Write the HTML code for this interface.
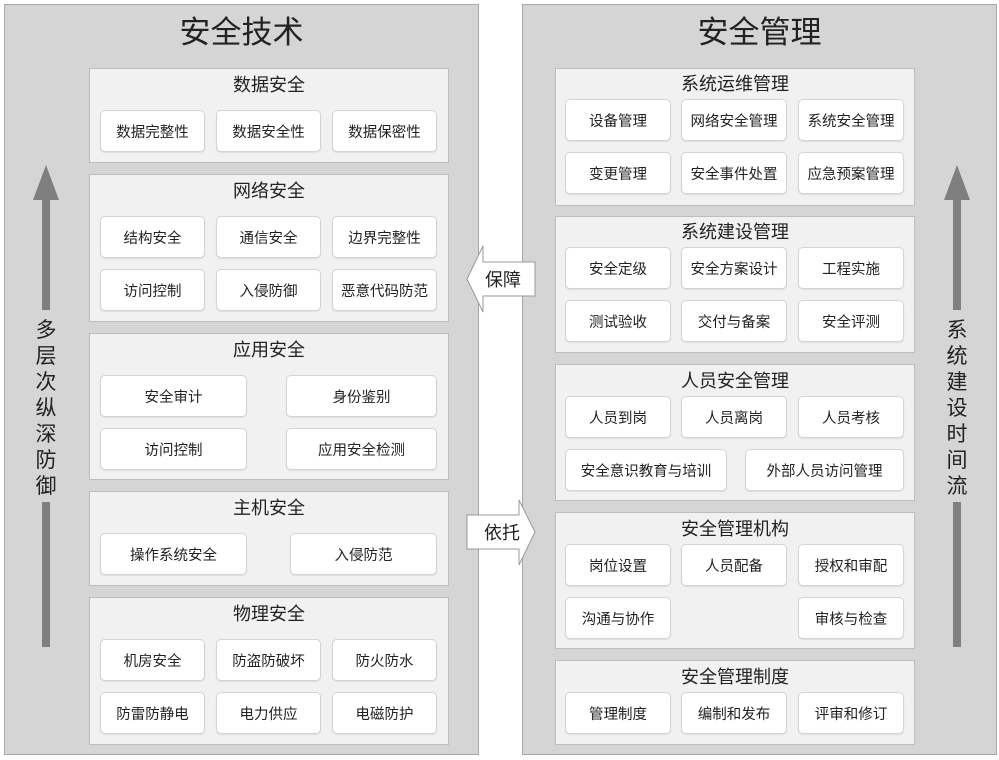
<!DOCTYPE html>
<html><head><meta charset="utf-8"><style>
*{margin:0;padding:0;box-sizing:border-box}
body{width:999px;height:760px;background:#fff;position:relative;font-family:"Liberation Sans","Noto Sans CJK SC",sans-serif;color:#222;overflow:hidden}
.abs{position:absolute}
.panel{background:#d5d5d5;border:1px solid #a8a8a8}
.big{font-size:31px;text-align:center;width:100%;top:8px;line-height:40px}
.sec{background:#f1f1f1;border:1px solid #bdbdbd}
.st{font-size:18px;text-align:center;width:100%;line-height:22px}
.it{background:#fff;border:1px solid #d4d4d4;border-radius:5px;font-size:14.5px;text-align:center;line-height:40px;padding-top:2px;box-shadow:0 1px 1px #ddd}
.vt{font-size:21px;width:30px;text-align:center;line-height:26px}
</style></head><body>
<div class="abs panel" style="left:4px;top:4px;width:475px;height:751px"><div class="abs big">安全技术</div></div>
<div class="abs panel" style="left:522px;top:4px;width:475px;height:751px"><div class="abs big">安全管理</div></div>

<svg class="abs" style="left:0;top:0" width="999" height="760">
<polygon points="46,165 59,200 33,200" fill="#7f7f7f"/>
<rect x="42" y="198" width="8" height="112" fill="#7f7f7f"/>
<rect x="42" y="502" width="8" height="145" fill="#7f7f7f"/>
<polygon points="957,165 970,200 944,200" fill="#7f7f7f"/>
<rect x="953" y="198" width="8" height="112" fill="#7f7f7f"/>
<rect x="953" y="502" width="8" height="145" fill="#7f7f7f"/>
<polygon points="467,279 483,246 483,262 535,262 535,296 483,296 483,312" fill="#fff" stroke="#999"/>
<polygon points="535,532 519,500 519,515 467,515 467,549 519,549 519,565" fill="#fff" stroke="#999"/>
<text x="503" y="286" font-size="18" text-anchor="middle" font-family="Liberation Sans,Noto Sans CJK SC,sans-serif" fill="#222">保障</text>
<text x="502" y="539" font-size="18" text-anchor="middle" font-family="Liberation Sans,Noto Sans CJK SC,sans-serif" fill="#222">依托</text>
</svg>
<div class="abs vt" style="left:31px;top:318px">多<br>层<br>次<br>纵<br>深<br>防<br>御</div>
<div class="abs vt" style="left:942px;top:318px">系<br>统<br>建<br>设<br>时<br>间<br>流</div>

<div class="abs sec" style="left:89px;top:68px;width:360px;height:95px"><div class="abs st" style="top:5px">数据安全</div></div>
<div class="abs it" style="left:100px;top:110px;width:105px;height:42px">数据完整性</div>
<div class="abs it" style="left:216px;top:110px;width:105px;height:42px">数据安全性</div>
<div class="abs it" style="left:332px;top:110px;width:105px;height:42px">数据保密性</div>

<div class="abs sec" style="left:89px;top:174px;width:360px;height:148px"><div class="abs st" style="top:5px">网络安全</div></div>
<div class="abs it" style="left:100px;top:216px;width:105px;height:42px">结构安全</div>
<div class="abs it" style="left:216px;top:216px;width:105px;height:42px">通信安全</div>
<div class="abs it" style="left:332px;top:216px;width:105px;height:42px">边界完整性</div>
<div class="abs it" style="left:100px;top:269px;width:105px;height:42px">访问控制</div>
<div class="abs it" style="left:216px;top:269px;width:105px;height:42px">入侵防御</div>
<div class="abs it" style="left:332px;top:269px;width:105px;height:42px">恶意代码防范</div>

<div class="abs sec" style="left:89px;top:333px;width:360px;height:147px"><div class="abs st" style="top:5px">应用安全</div></div>
<div class="abs it" style="left:100px;top:375px;width:147px;height:42px">安全审计</div>
<div class="abs it" style="left:286px;top:375px;width:151px;height:42px">身份鉴别</div>
<div class="abs it" style="left:100px;top:428px;width:147px;height:42px">访问控制</div>
<div class="abs it" style="left:286px;top:428px;width:151px;height:42px">应用安全检测</div>

<div class="abs sec" style="left:89px;top:491px;width:360px;height:95px"><div class="abs st" style="top:5px">主机安全</div></div>
<div class="abs it" style="left:100px;top:533px;width:147px;height:42px">操作系统安全</div>
<div class="abs it" style="left:290px;top:533px;width:147px;height:42px">入侵防范</div>

<div class="abs sec" style="left:89px;top:597px;width:360px;height:148px"><div class="abs st" style="top:5px">物理安全</div></div>
<div class="abs it" style="left:100px;top:639px;width:105px;height:42px">机房安全</div>
<div class="abs it" style="left:216px;top:639px;width:105px;height:42px">防盗防破坏</div>
<div class="abs it" style="left:332px;top:639px;width:105px;height:42px">防火防水</div>
<div class="abs it" style="left:100px;top:692px;width:105px;height:42px">防雷防静电</div>
<div class="abs it" style="left:216px;top:692px;width:105px;height:42px">电力供应</div>
<div class="abs it" style="left:332px;top:692px;width:105px;height:42px">电磁防护</div>

<div class="abs sec" style="left:555px;top:68px;width:360px;height:138px"><div class="abs st" style="top:4px">系统运维管理</div></div>
<div class="abs it" style="left:565px;top:99px;width:106px;height:42px">设备管理</div>
<div class="abs it" style="left:681px;top:99px;width:106px;height:42px">网络安全管理</div>
<div class="abs it" style="left:798px;top:99px;width:106px;height:42px">系统安全管理</div>
<div class="abs it" style="left:565px;top:152px;width:106px;height:42px">变更管理</div>
<div class="abs it" style="left:681px;top:152px;width:106px;height:42px">安全事件处置</div>
<div class="abs it" style="left:798px;top:152px;width:106px;height:42px">应急预案管理</div>

<div class="abs sec" style="left:555px;top:216px;width:360px;height:137px"><div class="abs st" style="top:4px">系统建设管理</div></div>
<div class="abs it" style="left:565px;top:247px;width:106px;height:42px">安全定级</div>
<div class="abs it" style="left:681px;top:247px;width:106px;height:42px">安全方案设计</div>
<div class="abs it" style="left:798px;top:247px;width:106px;height:42px">工程实施</div>
<div class="abs it" style="left:565px;top:300px;width:106px;height:42px">测试验收</div>
<div class="abs it" style="left:681px;top:300px;width:106px;height:42px">交付与备案</div>
<div class="abs it" style="left:798px;top:300px;width:106px;height:42px">安全评测</div>

<div class="abs sec" style="left:555px;top:364px;width:360px;height:137px"><div class="abs st" style="top:5px">人员安全管理</div></div>
<div class="abs it" style="left:565px;top:396px;width:106px;height:42px">人员到岗</div>
<div class="abs it" style="left:681px;top:396px;width:106px;height:42px">人员离岗</div>
<div class="abs it" style="left:798px;top:396px;width:106px;height:42px">人员考核</div>
<div class="abs it" style="left:565px;top:449px;width:162px;height:42px">安全意识教育与培训</div>
<div class="abs it" style="left:745px;top:449px;width:159px;height:42px">外部人员访问管理</div>

<div class="abs sec" style="left:555px;top:512px;width:360px;height:137px"><div class="abs st" style="top:5px">安全管理机构</div></div>
<div class="abs it" style="left:565px;top:544px;width:106px;height:42px">岗位设置</div>
<div class="abs it" style="left:681px;top:544px;width:106px;height:42px">人员配备</div>
<div class="abs it" style="left:798px;top:544px;width:106px;height:42px">授权和审配</div>
<div class="abs it" style="left:565px;top:597px;width:106px;height:42px">沟通与协作</div>
<div class="abs it" style="left:798px;top:597px;width:106px;height:42px">审核与检查</div>

<div class="abs sec" style="left:555px;top:660px;width:360px;height:85px"><div class="abs st" style="top:5px">安全管理制度</div></div>
<div class="abs it" style="left:565px;top:692px;width:106px;height:42px">管理制度</div>
<div class="abs it" style="left:681px;top:692px;width:106px;height:42px">编制和发布</div>
<div class="abs it" style="left:798px;top:692px;width:106px;height:42px">评审和修订</div>
</body></html>
